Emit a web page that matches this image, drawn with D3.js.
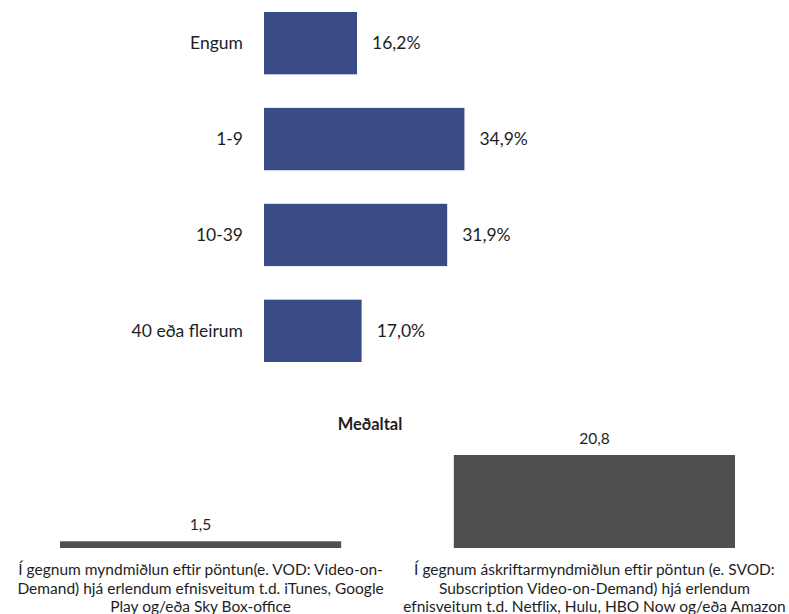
<!DOCTYPE html>
<html>
<head>
<meta charset="utf-8">
<script src="https://cdn.jsdelivr.net/npm/d3@7"></script>
<style>
  body { margin: 0; background: #fff; }
  text { font-family: Lato, "Open Sans", sans-serif; fill: #1e1e1e; }
</style>
</head>
<body>
<div id="chart"></div>
<script>
// Top chart: distribution
const categories = ["Engum", "1-9", "10-39", "40 eða fleirum"];
const shares = [16.2, 34.9, 31.9, 17.0];

// Bottom chart: averages
const avgTitle = "Meðaltal";
const avgCategories = ["VOD", "SVOD"];
const avgValues = [1.5, 20.8];
const avgLabels = [
  ["Í gegnum myndmiðlun eftir pöntun(e. VOD: Video-on-",
   "Demand) hjá erlendum efnisveitum t.d. iTunes, Google",
   "Play og/eða Sky Box-office"],
  ["Í gegnum áskriftarmyndmiðlun eftir pöntun (e. SVOD:",
   "Subscription Video-on-Demand) hjá erlendum",
   "efnisveitum t.d. Netflix, Hulu, HBO Now og/eða Amazon"]
];

const width = 789, height = 614;
const fmt = v => v.toFixed(1).replace(".", ",");

const svg = d3.select("#chart").append("svg")
  .attr("width", width)
  .attr("height", height);

// ---- top horizontal bars
const topData = categories.map((c, i) => ({ name: c, value: shares[i] }));

const x = d3.scaleLinear().domain([0, 35]).range([264, 465]);
const y = d3.scaleBand().domain(categories).range([12, 362]).paddingInner(0.35).paddingOuter(0);

const distG = svg.append("g");

distG.selectAll("rect")
  .data(topData)
  .join("rect")
  .attr("x", x(0))
  .attr("y", d => y(d.name))
  .attr("width", d => x(d.value) - x(0))
  .attr("height", y.bandwidth())
  .attr("fill", "#394c86");

distG.selectAll(".cat")
  .data(topData)
  .join("text")
  .attr("class", "cat")
  .attr("x", x(0) - 21)
  .attr("y", d => y(d.name) + y.bandwidth() / 2)
  .attr("dy", "0.35em")
  .attr("text-anchor", "end")
  .style("font-size", "17.5px")
  .text(d => d.name);

distG.selectAll(".val")
  .data(topData)
  .join("text")
  .attr("class", "val")
  .attr("x", d => x(d.value) + 15)
  .attr("y", d => y(d.name) + y.bandwidth() / 2)
  .attr("dy", "0.35em")
  .style("font-size", "17.5px")
  .text(d => fmt(d.value) + "%");

// ---- bottom vertical bars
const avgData = avgCategories.map((c, i) => ({ name: c, value: avgValues[i], label: avgLabels[i] }));

const bx = d3.scaleBand().domain(avgCategories).range([60, 735]).paddingInner(0.286).paddingOuter(0);
const by = d3.scaleLinear().domain([0, 20.8]).range([548, 455]);

const avgG = svg.append("g");

avgG.append("text")
  .attr("x", 370)
  .attr("y", 430)
  .attr("text-anchor", "middle")
  .style("font-size", "16.5px")
  .style("font-weight", "bold")
  .text(avgTitle);

avgG.selectAll("rect")
  .data(avgData)
  .join("rect")
  .attr("x", d => bx(d.name))
  .attr("y", d => by(d.value))
  .attr("width", bx.bandwidth())
  .attr("height", d => by(0) - by(d.value))
  .attr("fill", "#4f4f4f");

avgG.selectAll(".val")
  .data(avgData)
  .join("text")
  .attr("class", "val")
  .attr("x", d => bx(d.name) + bx.bandwidth() / 2)
  .attr("y", d => by(d.value) - 11)
  .attr("text-anchor", "middle")
  .style("font-size", "15.5px")
  .text(d => fmt(d.value));

const lbl = avgG.selectAll(".lbl")
  .data(avgData)
  .join("text")
  .attr("class", "lbl")
  .attr("text-anchor", "middle")
  .style("font-size", "15.5px");

lbl.selectAll("tspan")
  .data(d => d.label.map(t => ({ t, cx: bx(d.name) + bx.bandwidth() / 2 })))
  .join("tspan")
  .attr("x", d => d.cx)
  .attr("y", (d, i) => 575 + i * 18.5)
  .text(d => d.t);
</script>
</body>
</html>
